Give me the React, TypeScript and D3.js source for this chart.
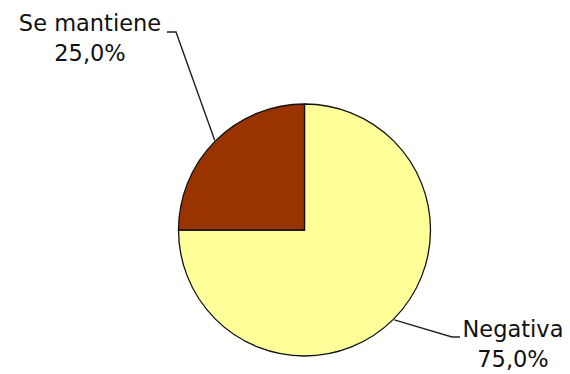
import React from "react";
import * as d3 from "d3";

const categories = ["Negativa", "Se mantiene"];
const values = [75, 25];
const colors = ["#FFFF99", "#993300"];
const percentLabels = ["75,0%", "25,0%"];

const W = 570;
const H = 374;
const cx = 304.5;
const cy = 230;
const R = 126;

export default function App() {
  const pie = d3.pie<number>().sort(null).value((d) => d)(values);
  const arc = d3.arc<d3.PieArcDatum<number>>().innerRadius(0).outerRadius(R);

  const labelLayout = [
    { elbow: [452, 337], end: [460, 337], tx: 513, ty: 337 },
    { elbow: [176, 32], end: [167, 32], tx: 90, ty: 31 },
  ];

  return (
    <svg
      width={W}
      height={H}
      style={{ position: "absolute", left: 0, top: 0 }}
      fontFamily="DejaVu Sans, Verdana, sans-serif"
    >
      <rect width={W} height={H} fill="#fff" />
      <g transform={`translate(${cx},${cy})`}>
        {pie.map((p, i) => (
          <path key={i} d={arc(p) || ""} fill={colors[i]} stroke="#111" strokeWidth={1.3} />
        ))}
      </g>
      {pie.map((p, i) => {
        const mid = (p.startAngle + p.endAngle) / 2;
        const ax = cx + Math.sin(mid) * (R + 1);
        const ay = cy - Math.cos(mid) * (R + 1);
        const L = labelLayout[i];
        return (
          <g key={"l" + i}>
            <polyline
              points={`${ax},${ay} ${L.elbow[0]},${L.elbow[1]} ${L.end[0]},${L.end[1]}`}
              fill="none"
              stroke="#222"
              strokeWidth={1.4}
            />
            <text x={L.tx} y={L.ty} textAnchor="middle" fontSize={22.5} fill="#111">
              {categories[i]}
            </text>
            <text x={L.tx} y={L.ty + 30} textAnchor="middle" fontSize={22.5} fill="#111">
              {percentLabels[i]}
            </text>
          </g>
        );
      })}
    </svg>
  );
}
